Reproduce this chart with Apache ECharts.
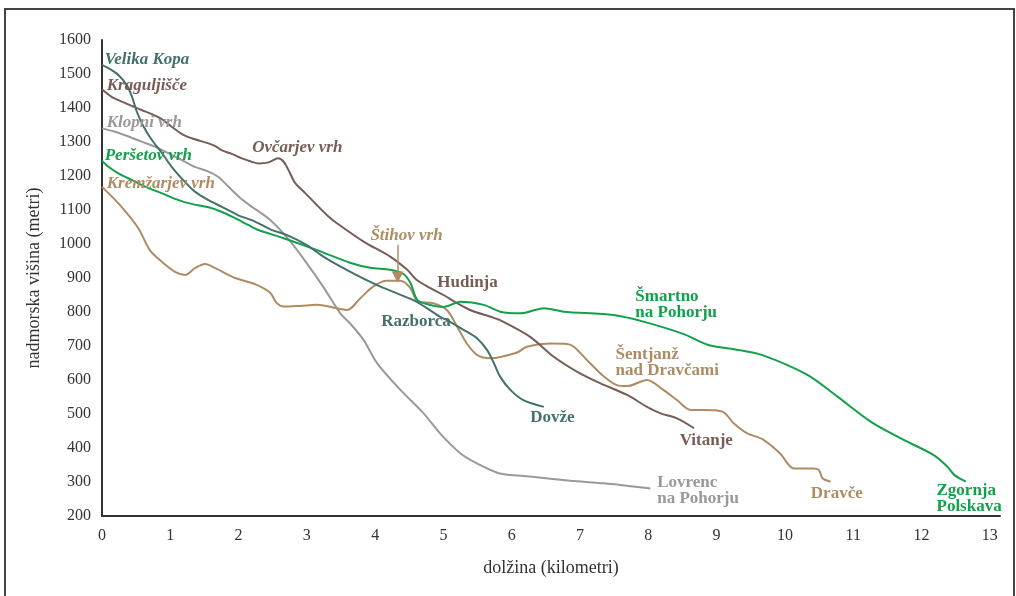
<!DOCTYPE html>
<html>
<head>
<meta charset="utf-8">
<script src="https://cdn.jsdelivr.net/npm/echarts@6/dist/echarts.min.js"></script>
<style>html,body{margin:0;padding:0;background:#fff}#c{width:1016px;height:596px}</style>
</head>
<body>
<div id="c"></div>
<script>
// ---- data (km, m) ----
const velikaKopa = [[0,1527],[0.12,1514],[0.24,1497],[0.36,1468],[0.44,1433],[0.51,1389],[0.61,1345],[0.73,1306],[0.88,1267],[1.02,1227],[1.19,1188],[1.36,1154],[1.56,1129],[1.75,1110],[1.99,1085],[2.24,1066],[2.49,1041],[2.71,1026],[3.0,997],[3.24,963],[3.63,919],[4.03,879],[4.32,855],[4.61,830],[4.95,786],[5.05,776],[5.3,747],[5.49,723],[5.64,688],[5.74,649],[5.83,610],[5.98,571],[6.17,541],[6.47,521]];
const kraguljisce = [[0,1455],[0.14,1433],[0.29,1419],[0.44,1406],[0.58,1394],[0.73,1382],[0.88,1367],[1.02,1345],[1.19,1321],[1.36,1308],[1.56,1296],[1.66,1288],[1.75,1276],[1.9,1265],[2.05,1252],[2.19,1242],[2.29,1237],[2.44,1240],[2.58,1252],[2.66,1242],[2.73,1218],[2.83,1179],[2.98,1149],[3.12,1120],[3.32,1080],[3.44,1061],[3.83,1007],[4.22,963],[4.47,924],[4.61,894],[4.81,870],[5.0,850],[5.2,826],[5.39,806],[5.69,786],[5.83,776],[6.27,727],[6.61,669],[6.96,624],[7.3,590],[7.69,556],[7.98,521],[8.18,502],[8.42,487],[8.67,458]];
const klopniVrh = [[0,1340],[0.19,1330],[0.39,1316],[0.58,1301],[0.78,1286],[0.97,1267],[1.17,1247],[1.36,1227],[1.56,1213],[1.7,1198],[1.85,1169],[2.0,1140],[2.17,1113],[2.46,1071],[2.76,1007],[3.0,943],[3.24,874],[3.49,796],[3.63,767],[3.83,718],[4.03,649],[4.37,571],[4.71,502],[4.95,443],[5.25,384],[5.49,355],[5.81,326],[6.27,316],[6.86,304],[7.35,296],[8.03,281]];
const persetovVrh = [[0,1245],[0.09,1228],[0.24,1208],[0.44,1188],[0.63,1169],[0.88,1149],[1.12,1129],[1.31,1118],[1.56,1108],[1.75,1095],[1.95,1076],[2.14,1056],[2.29,1041],[2.66,1017],[3.15,982],[3.63,945],[3.93,930],[4.22,924],[4.42,911],[4.52,884],[4.62,835],[4.84,819],[5.0,815],[5.25,830],[5.59,821],[5.83,801],[6.13,796],[6.47,811],[6.76,801],[7.49,791],[7.94,771],[8.52,735],[8.88,703],[9.28,690],[9.66,674],[10.33,615],[10.77,551],[11.26,477],[11.74,424],[12.18,379],[12.38,345],[12.48,321],[12.65,301]];
const kremzarjevVrh = [[0,1168],[0.26,1115],[0.53,1047],[0.7,982],[0.88,947],[1.07,918],[1.22,909],[1.36,929],[1.51,941],[1.66,929],[1.95,900],[2.24,882],[2.46,857],[2.56,826],[2.66,816],[2.9,818],[3.15,821],[3.59,806],[3.78,840],[3.98,876],[4.17,892],[4.37,892],[4.51,872],[4.63,830],[4.85,826],[5.05,806],[5.2,757],[5.34,708],[5.49,674],[5.69,664],[6.08,681],[6.22,698],[6.57,707],[6.81,706],[6.91,698],[7.1,659],[7.35,610],[7.54,585],[7.69,582],[7.98,600],[8.2,574],[8.42,541],[8.62,512],[8.96,511],[9.11,504],[9.25,473],[9.45,443],[9.67,426],[9.93,384],[10.13,340],[10.42,340],[10.5,335],[10.55,311],[10.67,301]];

const xTicks = [0,1,2,3,4,5,6,7,8,9,10,11,12,13];
const yTicks = [200,300,400,500,600,700,800,900,1000,1100,1200,1300,1400,1500,1600];

// labels: [km, m, text, group]
const startLabels = [
  [0.04,1543,'Velika Kopa','teal'],
  [0.07,1467,'Kraguljišče','brown'],
  [0.07,1358,'Klopni vrh','gray'],
  [0.04,1261,'Peršetov vrh','green'],
  [0.07,1178,'Kremžarjev vrh','tan'],
  [2.2,1284,'Ovčarjev vrh','brown'],
  [3.93,1025,'Štihov vrh','tan']
];
const placeLabels = [
  [4.91,885,'Hudinja','brown'],
  [4.09,771,'Razborca','teal'],
  [6.27,488,'Dovže','teal'],
  [7.81,821,'Šmartno\nna Pohorju','green'],
  [7.52,650,'Šentjanž\nnad Dravčami','tan'],
  [8.46,423,'Vitanje','brown'],
  [8.13,276,'Lovrenc\nna Pohorju','gray'],
  [10.38,265,'Dravče','tan'],
  [12.22,250,'Zgornja\nPolskava','green']
];
const stihovArrow = [[4.33,998],[4.33,903]];

const colors = {teal:'#44716c', brown:'#765d55', gray:'#999999', green:'#12a04b', tan:'#ad8c64'};
const font = '"Liberation Serif", "DejaVu Serif", serif';

function lineSeries(name, data, c) {
  return {name, type:'line', data, symbol:'none', smooth:0.3, lineStyle:{color:c, width:2}, z:3, animation:false};
}
function labelSeries(arr, italic) {
  return {
    type:'scatter', symbolSize:0, silent:true, animation:false, z:5,
    itemStyle:{opacity:1},
    data: arr.map(d => ({value:[d[0], d[1]], text:d[2], label:{color:colors[d[3]]}})),
    label:{show:true, opacity:1, position:'right', distance:0, formatter:p => p.data.text,
      fontFamily:font, fontSize:17, fontWeight:'bold', fontStyle: italic ? 'italic' : 'normal', lineHeight:16, align:'left', verticalAlign:'middle'}
  };
}

const chart = echarts.init(document.getElementById('c'), null, {renderer:'canvas'});
chart.setOption({
  backgroundColor:'#fff',
  animation:false,
  grid:{left:102, right:16, top:40, bottom:80},
  xAxis:{type:'value', min:0, max:13.15, interval:1,
    name:'dolžina (kilometri)', nameLocation:'middle', nameGap:43,
    nameTextStyle:{fontFamily:font, fontSize:18, color:'#333'},
    axisLine:{lineStyle:{color:'#333', width:2}}, axisTick:{show:false}, splitLine:{show:false},
    axisLabel:{fontFamily:font, fontSize:16, color:'#333', margin:12, formatter:v => xTicks.includes(v) ? String(v) : ''}},
  yAxis:{type:'value', min:200, max:1600, interval:100,
    name:'nadmorska višina (metri)', nameLocation:'middle', nameGap:59,
    nameTextStyle:{fontFamily:font, fontSize:18, color:'#333'},
    axisLine:{show:true, lineStyle:{color:'#333', width:2}}, axisTick:{show:false}, splitLine:{show:false},
    axisLabel:{fontFamily:font, fontSize:16, color:'#333', margin:11, formatter:v => yTicks.includes(v) ? String(v) : ''}},
  graphic:[{type:'rect', shape:{x:5, y:9, width:1009, height:600}, style:{fill:'none', stroke:'#444', lineWidth:2}, z:10}],
  series:[
    lineSeries('Klopni vrh', klopniVrh, colors.gray),
    lineSeries('Kremžarjev vrh', kremzarjevVrh, colors.tan),
    lineSeries('Kraguljišče', kraguljisce, colors.brown),
    lineSeries('Peršetov vrh', persetovVrh, colors.green),
    lineSeries('Velika Kopa', velikaKopa, colors.teal),
    {type:'line', data:[], markLine:{silent:true, animation:false, symbol:['none','triangle'], symbolSize:[12,11],
      label:{show:false}, lineStyle:{color:colors.tan, width:1.5, type:'solid'},
      data:[[{coord:stihovArrow[0]},{coord:stihovArrow[1]}]]}},
    labelSeries(startLabels, true),
    labelSeries(placeLabels, false)
  ]
});
</script>
</body>
</html>
